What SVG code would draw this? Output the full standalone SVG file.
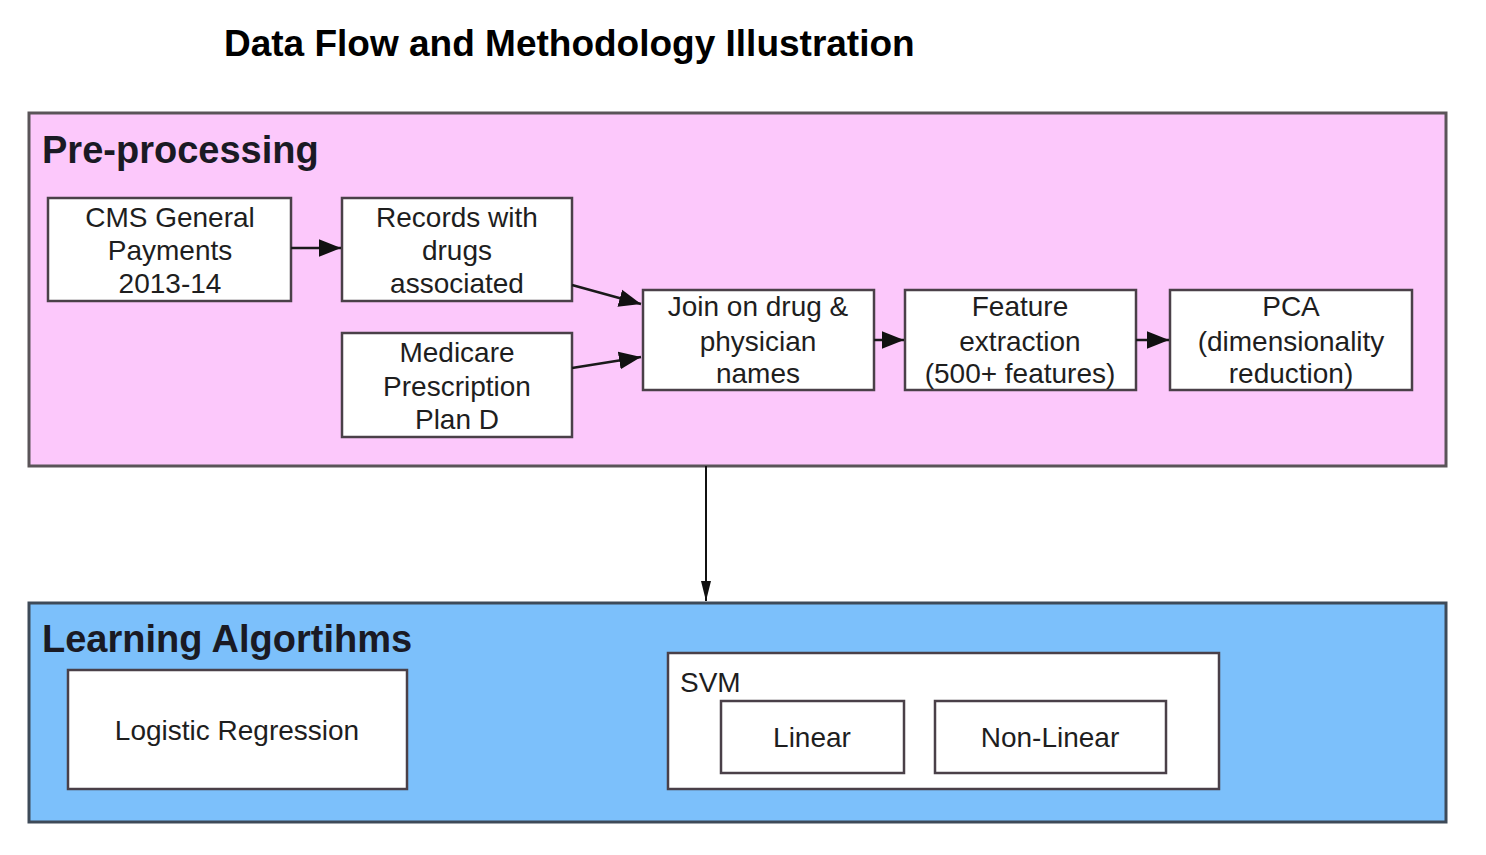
<svg xmlns="http://www.w3.org/2000/svg" width="1486" height="855" viewBox="0 0 1486 855">
<style>
text{font-family:"Liberation Sans",Arial,sans-serif;fill:#1e1e1e}
.title{font-size:37px;font-weight:bold;fill:#000}
.group-label{font-size:38px;font-weight:bold;fill:#1a1a24}
.node rect{fill:#fff;stroke:#4a4048;stroke-width:2.5}
.node text{font-size:28px;text-anchor:middle}
.edge{stroke:#1a1a1a;stroke-width:2.5;fill:none}
</style>
<defs>
<marker id="ahBig" viewBox="0 0 10 10" refX="10" refY="5" markerWidth="22" markerHeight="22" markerUnits="userSpaceOnUse" orient="auto">
<path d="M0,1 L10,5 L0,9 z" fill="#111"/>
</marker>
<marker id="ahVert" viewBox="0 0 20 10" refX="20" refY="5" markerWidth="20" markerHeight="10" markerUnits="userSpaceOnUse" orient="auto">
<path d="M0,0 L20,5 L0,10 z" fill="#111"/>
</marker>
</defs>
<rect width="1486" height="855" fill="#fff"/>
<text class="title" x="224" y="56">Data Flow and Methodology Illustration</text>

<g id="preprocessing">
<rect x="29" y="113" width="1417" height="353" fill="#fcc8fb" stroke="#5a5458" stroke-width="3"/>
<text class="group-label" x="42" y="163">Pre-processing</text>
</g>
<g id="learning">
<rect x="29" y="603" width="1417" height="219" fill="#7cc0fb" stroke="#3e4a58" stroke-width="3"/>
<text class="group-label" x="42" y="652">Learning Algortihms</text>
</g>

<g id="cms" class="node">
<rect x="48" y="198" width="243" height="103"/>
<text x="170" y="227">CMS General</text>
<text x="170" y="260">Payments</text>
<text x="170" y="293">2013-14</text>
</g>
<g id="records" class="node">
<rect x="342" y="198" width="230" height="103"/>
<text x="457" y="227">Records with</text>
<text x="457" y="260">drugs</text>
<text x="457" y="293">associated</text>
</g>
<g id="medicare" class="node">
<rect x="342" y="333" width="230" height="104"/>
<text x="457" y="362">Medicare</text>
<text x="457" y="396">Prescription</text>
<text x="457" y="429">Plan D</text>
</g>
<g id="join" class="node">
<rect x="643" y="290" width="231" height="100"/>
<text x="758" y="316">Join on drug &amp;</text>
<text x="758" y="351">physician</text>
<text x="758" y="383">names</text>
</g>
<g id="feature" class="node">
<rect x="905" y="290" width="231" height="100"/>
<text x="1020" y="316">Feature</text>
<text x="1020" y="351">extraction</text>
<text x="1020" y="383">(500+ features)</text>
</g>
<g id="pca" class="node">
<rect x="1170" y="290" width="242" height="100"/>
<text x="1291" y="316">PCA</text>
<text x="1291" y="351">(dimensionality</text>
<text x="1291" y="383">reduction)</text>
</g>

<g id="logreg" class="node">
<rect x="68" y="670" width="339" height="119"/>
<text x="237" y="740">Logistic Regression</text>
</g>
<g id="svm" class="node">
<rect x="668" y="653" width="551" height="136"/>
<text x="680" y="692" style="text-anchor:start">SVM</text>
</g>
<g id="linear" class="node">
<rect x="721" y="701" width="183" height="72"/>
<text x="812" y="747">Linear</text>
</g>
<g id="nonlinear" class="node">
<rect x="935" y="701" width="231" height="72"/>
<text x="1050" y="747">Non-Linear</text>
</g>

<g id="connectors">
<line class="edge" x1="291" y1="248" x2="341" y2="248" marker-end="url(#ahBig)"/>
<line class="edge" x1="572" y1="285" x2="641" y2="304" marker-end="url(#ahBig)"/>
<line class="edge" x1="572" y1="368" x2="641" y2="357" marker-end="url(#ahBig)"/>
<line class="edge" x1="874" y1="340" x2="904" y2="340" marker-end="url(#ahBig)"/>
<line class="edge" x1="1136" y1="340" x2="1169" y2="340" marker-end="url(#ahBig)"/>
<line x1="706" y1="466" x2="706" y2="601" stroke="#111" stroke-width="2" marker-end="url(#ahVert)"/>
</g>
</svg>
